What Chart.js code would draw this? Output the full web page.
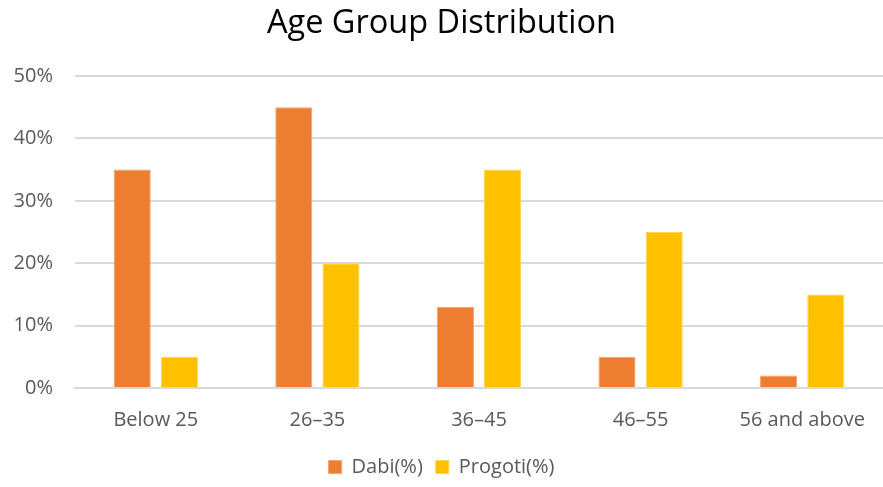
<!DOCTYPE html>
<html>
<head>
<meta charset="utf-8">
<script src="https://cdn.jsdelivr.net/npm/chart.js@4"></script>
<style>
  html, body { margin: 0; padding: 0; background: #ffffff; }
  #wrap { width: 883px; height: 487px; position: relative; }
</style>
</head>
<body>
<div id="wrap"><canvas id="chart"></canvas></div>
<script>
// Age groups and share of respondents (%) per organisation
const ageGroups = ["Below 25", "26\u201335", "36\u201345", "46\u201355", "56 and above"];
const dabiValues = [35, 45, 13, 5, 2];
const progotiValues = [5, 20, 35, 25, 15];
const yTicks = [0, 10, 20, 30, 40, 50];

const textColor = "#595959";
const fontFamily = "'Open Sans', 'Liberation Sans', sans-serif";

new Chart(document.getElementById("chart"), {
  type: "bar",
  data: {
    labels: ageGroups,
    datasets: [
      {
        label: "Dabi(%)",
        data: dabiValues,
        backgroundColor: "#ED7D31",
        borderColor: "#F4A46E",
        borderWidth: 1,
        categoryPercentage: 0.584,
        barPercentage: 0.787
      },
      {
        label: "Progoti(%)",
        data: progotiValues,
        backgroundColor: "#FFC000",
        borderColor: "#FFD54F",
        borderWidth: 1,
        categoryPercentage: 0.584,
        barPercentage: 0.787
      }
    ]
  },
  options: {
    responsive: true,
    maintainAspectRatio: false,
    animation: false,
    layout: { padding: { left: 0, right: 0, top: 0, bottom: 0 } },
    plugins: {
      title: {
        display: true,
        text: "Age Group Distribution",
        color: "#000000",
        font: { family: fontFamily, size: 32.5, weight: "normal" },
        padding: { top: 4, bottom: 33 }
      },
      legend: {
        position: "bottom",
        labels: {
          color: textColor,
          font: { family: fontFamily, size: 20 },
          boxWidth: 13,
          boxHeight: 13,
          padding: 13
        }
      },
      tooltip: { enabled: false }
    },
    scales: {
      x: {
        grid: { display: false },
        border: { color: "#d9d9d9", width: 2 },
        ticks: {
          color: textColor,
          font: { family: fontFamily, size: 20 },
          padding: 12,
          maxRotation: 0
        }
      },
      y: {
        min: 0,
        max: 50,
        afterBuildTicks: (axis) => { axis.ticks = yTicks.map(v => ({ value: v })); },
        afterFit: (axis) => { axis.width = 75; },
        grid: { color: "#d9d9d9", lineWidth: 2, drawTicks: false },
        border: { display: false },
        ticks: {
          color: textColor,
          font: { family: fontFamily, size: 20 },
          padding: 22,
          callback: (v) => v + "%"
        }
      }
    }
  }
});
</script>
</body>
</html>
